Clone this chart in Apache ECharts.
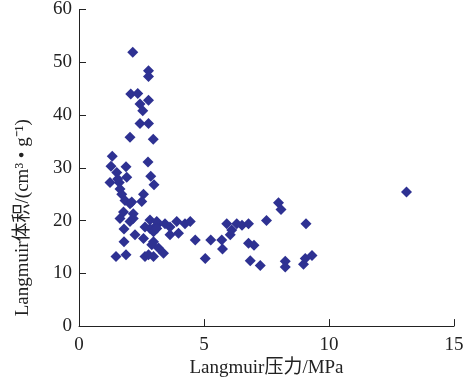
<!DOCTYPE html>
<html>
<head>
<meta charset="utf-8">
<script src="https://cdn.jsdelivr.net/npm/echarts@6/dist/echarts.min.js"></script>
<style>
  html, body { margin: 0; padding: 0; background: #fff; }
  #chart { width: 473px; height: 383px; }
</style>
</head>
<body>
<div id="chart"></div>
<script>
// Langmuir 压力 (MPa)
var pressure = [
  2.15, 2.78, 2.78, 2.07, 2.35, 2.78, 2.44, 2.55, 2.44, 2.78, 2.04, 2.97,
  1.33, 1.28, 1.88, 2.76, 1.51, 1.91, 2.87, 1.24, 1.61, 1.55, 3.0, 1.64,
  1.71, 2.58, 1.84, 2.51, 2.04, 2.11, 1.78, 2.17, 1.64, 2.04, 2.17, 2.84,
  2.84, 3.11, 1.8, 2.64, 2.24, 2.58, 1.8, 2.98, 1.48, 1.88, 2.64, 2.78,
  2.98, 3.11, 3.44, 3.91, 4.24, 4.45, 2.98, 3.11, 3.64, 3.98, 3.64, 2.91,
  3.18, 3.38,
  4.65, 5.05, 5.27, 5.71, 5.74, 5.91, 6.05, 6.11, 6.31, 6.52, 6.78, 6.78,
  7.0, 6.85, 7.25, 7.5, 7.98, 8.08, 8.25, 8.25, 9.08, 8.98, 9.05, 9.32,
  13.1
];
// Langmuir 体积 (cm3/g)
var volume = [
  51.9, 48.4, 47.3, 44.0, 44.1, 42.8, 42.1, 40.8, 38.4, 38.4, 35.8, 35.4,
  32.2, 30.3, 30.2, 31.1, 29.1, 28.2, 28.4, 27.2, 27.2, 27.9, 26.8, 26.0,
  25.0, 25.0, 23.8, 23.6, 23.2, 23.5, 21.6, 21.3, 20.4, 19.8, 20.4, 20.1,
  18.5, 19.1, 18.4, 18.8, 17.3, 16.6, 16.0, 16.0, 13.2, 13.5, 13.2, 13.5,
  13.2, 19.8, 19.4, 19.8, 19.4, 19.8, 17.9, 18.5, 17.3, 17.6, 18.8, 15.4,
  14.8, 13.8,
  16.3, 12.8, 16.3, 16.3, 14.6, 19.4, 17.3, 18.2, 19.4, 19.1, 19.4, 15.7,
  15.3, 12.4, 11.5, 20.0, 23.4, 22.1, 12.3, 11.2, 19.4, 11.7, 12.8, 13.4,
  25.4
];
var xTicks = [0, 5, 10, 15];
var yTicks = [0, 10, 20, 30, 40, 50, 60];

var points = pressure.map(function (p, i) {
  return [p, volume[i]];
});

var font = "'Liberation Serif', 'Noto Sans CJK SC', serif";

var myCharts = echarts.init(document.getElementById("chart"));
myCharts.setOption({
  animation: false,
  grid: {
    left: 79,
    right: 19,
    top: 8,
    bottom: 54,
  },
  xAxis: {
    type: "value",
    min: xTicks[0],
    max: xTicks[xTicks.length - 1],
    interval: 5,
    name: "Langmuir压力/MPa",
    nameLocation: "middle",
    nameGap: 27,
    nameTextStyle: { fontFamily: font, fontSize: 19, color: "#222" },
    axisLine: { lineStyle: { color: "#222", width: 1 } },
    axisTick: { inside: true, length: 7, lineStyle: { color: "#222" } },
    axisLabel: { fontFamily: font, fontSize: 19, color: "#222", margin: 9 },
    splitLine: { show: false },
  },
  yAxis: {
    type: "value",
    min: yTicks[0],
    max: yTicks[yTicks.length - 1],
    interval: 10,
    name: "Langmuir体积/(cm³ • g⁻¹)",
    nameLocation: "middle",
    nameGap: 46,
    nameRotate: 90,
    nameTextStyle: {
      fontFamily: font,
      fontSize: 19,
      color: "#222",
      padding: [0, 100, 0, 0],
    },
    axisLine: { show: true, lineStyle: { color: "#222", width: 1 } },
    axisTick: { show: true, inside: true, length: 7, lineStyle: { color: "#222" } },
    axisLabel: { fontFamily: font, fontSize: 19, color: "#222", margin: 7 },
    splitLine: { show: false },
  },
  series: [
    {
      type: "scatter",
      data: points,
      symbol: "diamond",
      symbolSize: 11,
      itemStyle: { color: "#2e3192", opacity: 1 },
    },
  ],
});
</script>
</body>
</html>
